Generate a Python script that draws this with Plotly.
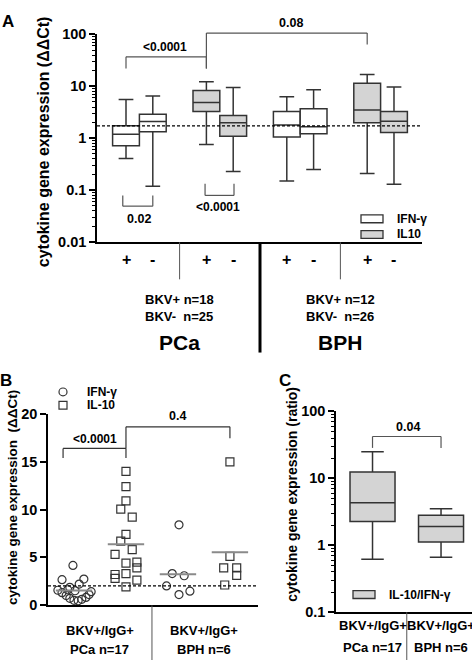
import numpy as np
import plotly.graph_objects as go

W, H = 472, 668
FONT = "Liberation Sans, Arial, sans-serif"
INK = "#333333"
GRAY_FILL = "#d4d4d4"

# ---------------- Panel A data (box statistics, ΔΔCt) ----------------
a_pos = [1, 2, 4, 5, 7, 8, 10, 11]
a_signs = ["+", "-", "+", "-", "+", "-", "+", "-"]
a_cytokine = ["IFN-γ", "IFN-γ", "IL10", "IL10", "IFN-γ", "IFN-γ", "IL10", "IL10"]
a_low = [0.41, 0.12, 0.76, 0.23, 0.15, 0.25, 0.21, 0.13]
a_q1 = [0.72, 1.33, 3.26, 1.09, 1.06, 1.22, 2.0, 1.3]
a_med = [1.2, 2.1, 4.9, 2.0, 1.8, 1.66, 3.5, 2.14]
a_q3 = [1.75, 2.9, 8.3, 2.74, 3.26, 3.7, 11.4, 3.26]
a_high = [5.6, 6.5, 12.2, 9.5, 6.3, 8.6, 16.8, 9.7]
a_ref = 1.73
a_groups = ["PCa", "BPH"]
a_group_pos = [3, 9]
a_counts = ["BKV+ n=18<br>BKV-\u00a0 n=25", "BKV+ n=12<br>BKV-\u00a0 n=26"]
a_yticks = [0.01, 0.1, 1, 10, 100]
a_yticklabels = ["0.01", "0.1", "1", "10", "100"]

# ---------------- Panel B data (individual points, ΔΔCt) ----------------
b_pca_ifn_x = [0.98, 0.77, 1.19, 1.10, 0.92, 0.69, 0.77, 0.85, 0.92, 1.0, 1.08, 1.15, 1.23, 1.29, 1.33, 1.02, 0.88]
b_pca_ifn_y = [4.15, 2.66, 2.72, 2.2, 1.85, 1.55, 1.3, 1.0, 0.7, 0.5, 0.45, 0.6, 0.8, 1.1, 1.4, 1.5, 1.6]
b_pca_il10_x = [2.0, 2.0, 2.0, 1.90, 2.12, 2.0, 1.90, 2.12, 1.79, 2.0, 2.21, 2.21, 1.79, 1.79, 2.0, 2.0, 2.21]
b_pca_il10_y = [14.0, 12.4, 10.9, 10.05, 9.2, 7.4, 6.7, 5.8, 5.3, 4.4, 4.5, 3.9, 3.2, 2.8, 3.3, 1.9, 2.6]
b_bph_ifn_x = [3.02, 2.89, 3.12, 2.78, 3.02, 3.23]
b_bph_ifn_y = [8.4, 3.3, 3.07, 2.0, 1.1, 1.45]
b_bph_il10_x = [4.0, 4.0, 3.88, 4.13, 4.13, 3.9]
b_bph_il10_y = [15.0, 5.1, 3.9, 3.9, 3.1, 2.1]
b_group_centers = [1, 2, 3, 4]
b_ref = 2.0
b_yticks = [0, 5, 10, 15, 20]
b_xlabels = [("BKV+/IgG+", "PCa n=17", 1.5), ("BKV+/IgG+", "BPH n=6", 3.5)]

# ---------------- Panel C data (IL-10/IFN-γ ratio) ----------------
c_pos = [1, 2]
c_low = [0.62, 0.66]
c_q1 = [2.26, 1.12]
c_med = [4.3, 1.91]
c_q3 = [12.4, 2.8]
c_high = [25.0, 3.5]
c_yticks = [0.1, 1, 10, 100]
c_yticklabels = ["0.1", "1", "10", "100"]
c_xlabels = [("BKV+/IgG+", "PCa n=17"), ("BKV+/IgG+", "BPH n=6")]


def px(x):
    return x / W


def py(y):
    return 1 - y / H


def bfont(size, color="black"):
    return dict(family=FONT, size=size, color=color, weight="bold")


def log_minor(lo, hi):
    return [m * 10.0 ** e for e in range(lo, hi) for m in range(2, 10)]


fig = go.Figure()

# ---------- Panel A boxes ----------
for i, p in enumerate(a_pos):
    fill = "white" if a_cytokine[i] == "IFN-γ" else GRAY_FILL
    fig.add_trace(go.Box(
        x=[p], q1=[a_q1[i]], median=[a_med[i]], q3=[a_q3[i]],
        lowerfence=[a_low[i]], upperfence=[a_high[i]],
        width=1.0, whiskerwidth=0.55, fillcolor=fill,
        line=dict(color=INK, width=1.5), boxpoints=False,
        showlegend=False, hoverinfo="skip", xaxis="x", yaxis="y"))

fig.add_trace(go.Scatter(x=[-0.082, 12.045], y=[a_ref, a_ref], mode="lines",
                         line=dict(color="black", width=1.3, dash="3px,2px"),
                         showlegend=False, hoverinfo="skip", xaxis="x", yaxis="y"))

# ---------- Panel B points ----------
mk = dict(size=8, line=dict(color=INK, width=1.2), color="rgba(0,0,0,0)")
for xs, ys, sym in [(b_pca_ifn_x, b_pca_ifn_y, "circle-open"),
                    (b_pca_il10_x, b_pca_il10_y, "square-open"),
                    (b_bph_ifn_x, b_bph_ifn_y, "circle-open"),
                    (b_bph_il10_x, b_bph_il10_y, "square-open")]:
    fig.add_trace(go.Scatter(x=xs, y=ys, mode="markers",
                             marker=dict(symbol=sym, size=8, color=INK, line=dict(color=INK, width=1.2)),
                             showlegend=False, hoverinfo="skip", xaxis="x2", yaxis="y2"))

for c, ys in zip(b_group_centers, [b_pca_ifn_y, b_pca_il10_y, b_bph_ifn_y, b_bph_il10_y]):
    m = float(np.mean(ys))
    fig.add_trace(go.Scatter(x=[c - 0.35, c + 0.35], y=[m, m], mode="lines",
                             line=dict(color="#8a8a8a", width=2),
                             showlegend=False, hoverinfo="skip", xaxis="x2", yaxis="y2"))

fig.add_trace(go.Scatter(x=[0.5, 4.54], y=[b_ref, b_ref], mode="lines",
                         line=dict(color="black", width=1.3, dash="3px,2px"),
                         showlegend=False, hoverinfo="skip", xaxis="x2", yaxis="y2"))

# ---------- Panel C boxes ----------
for i, p in enumerate(c_pos):
    fig.add_trace(go.Box(
        x=[p], q1=[c_q1[i]], median=[c_med[i]], q3=[c_q3[i]],
        lowerfence=[c_low[i]], upperfence=[c_high[i]],
        width=0.657, whiskerwidth=0.5, fillcolor=GRAY_FILL,
        line=dict(color=INK, width=1.5), boxpoints=False,
        showlegend=False, hoverinfo="skip", xaxis="x3", yaxis="y3"))

axis_common = dict(showline=True, linecolor="black", linewidth=1.5, showgrid=False,
                   zeroline=False, tickcolor="black")

shapes = []
anns = []

# ---------- Panel A decorations ----------
A_top, A_bot = 27, 240


def adom(ypix):
    return (A_bot - ypix) / (A_bot - A_top)


def bracket(xref, yref, x0, x1, ytop, yl, yr, width=1.2, color="#555555"):
    pts = [(x0, yl), (x0, ytop), (x1, ytop), (x1, yr)]
    for (xa, ya), (xb, yb) in zip(pts[:-1], pts[1:]):
        shapes.append(dict(type="line", xref=xref, yref=yref, x0=xa, y0=ya, x1=xb, y1=yb,
                           line=dict(color=color, width=width)))


bracket("x", "y domain", 1.0, 4.0, adom(50), adom(62), adom(62))
bracket("x", "y domain", 4.0, 10.0, adom(25.7), adom(62), adom(37.3))
bracket("x", "y domain", 0.88, 2.0, adom(203), adom(192), adom(192))
bracket("x", "y domain", 3.95, 5.03, adom(192), adom(180), adom(180))
anns += [
    dict(text="<0.0001", x=2.455, y=adom(40), xref="x", yref="y domain", font=bfont(12)),
    dict(text="0.08", x=7.157, y=adom(15), xref="x", yref="y domain", font=bfont(12.5)),
    dict(text="0.02", x=1.485, y=adom(216), xref="x", yref="y domain", font=bfont(12.5)),
    dict(text="<0.0001", x=4.43, y=adom(204), xref="x", yref="y domain", font=bfont(12)),
]

for p, s in zip(a_pos, a_signs):
    anns.append(dict(text=s, x=p, y=py(258), xref="x", yref="paper", font=bfont(16)))
for g, gp, cnt in zip(a_groups, a_group_pos, a_counts):
    anns.append(dict(text=cnt, x=gp, y=py(307), xref="x", yref="paper", font=bfont(13), align="left"))
    anns.append(dict(text=g, x=gp, y=py(343), xref="x", yref="paper", font=bfont(21)))
for xs in [3, 9]:
    shapes.append(dict(type="line", xref="x", yref="paper", x0=xs, x1=xs, y0=py(240), y1=py(278),
                       line=dict(color="#555555", width=1)))
shapes.append(dict(type="line", xref="x", yref="paper", x0=6, x1=6, y0=py(240), y1=py(353),
                   line=dict(color="black", width=3)))

# legend A
for (y0, y1, fill, lab) in [(212, 220, "white", "IFN-γ"), (228, 236, GRAY_FILL, "IL10")]:
    shapes.append(dict(type="rect", xref="paper", yref="paper", x0=px(361), x1=px(383),
                       y0=py(y1), y1=py(y0), fillcolor=fill, line=dict(color=INK, width=1.3)))
    anns.append(dict(text=lab, x=px(395), y=py((y0 + y1) / 2), xref="paper", yref="paper",
                     xanchor="left", font=bfont(12)))

anns.append(dict(text="cytokine gene expression (ΔΔCt)", x=px(43), y=py(137.5), xref="paper", yref="paper",
                 textangle=-90, font=bfont(16)))
anns.append(dict(text="A", x=px(8), y=py(14), xref="paper", yref="paper", font=bfont(17)))

# ---------- Panel B decorations ----------
bracket("x2", "y2", 0.79, 2.0, 16.4, 15.4, 15.4, color="#333333")
bracket("x2", "y2", 2.0, 4.0, 18.66, 16.4, 17.47, color="#333333")
anns += [
    dict(text="<0.0001", x=1.404, y=17.4, xref="x2", yref="y2", font=bfont(12)),
    dict(text="0.4", x=3.0, y=19.8, xref="x2", yref="y2", font=bfont(12.5)),
]
for l1, l2, xc in b_xlabels:
    anns.append(dict(text=l1, x=xc, y=py(638), xref="x2", yref="paper", font=bfont(13)))
    anns.append(dict(text=l2, x=xc, y=py(657), xref="x2", yref="paper", font=bfont(13)))
shapes.append(dict(type="line", xref="x2", yref="paper", x0=2.5, x1=2.5, y0=py(612), y1=py(668),
                   line=dict(color="#555555", width=1)))
# legend B
shapes.append(dict(type="circle", xref="paper", yref="paper", x0=px(59), x1=px(67), y0=py(397.3), y1=py(389.3),
                   line=dict(color=INK, width=1.2)))
shapes.append(dict(type="rect", xref="paper", yref="paper", x0=px(59), x1=px(67), y0=py(411), y1=py(403),
                   line=dict(color=INK, width=1.2)))
anns.append(dict(text="IFN-γ", x=px(85), y=py(393.3), xref="paper", yref="paper", xanchor="left", font=bfont(12)))
anns.append(dict(text="IL-10", x=px(85), y=py(407), xref="paper", yref="paper", xanchor="left", font=bfont(12)))
anns.append(dict(text="cytokine gene expression\u00a0 (ΔΔCt)", x=px(13), y=py(502), xref="paper", yref="paper",
                 textangle=-90, font=bfont(13.5)))
anns.append(dict(text="B", x=px(6), y=py(382), xref="paper", yref="paper", font=bfont(17)))

# ---------- Panel C decorations ----------
C_top, C_bot = 413.3, 619


def cdom(ypix):
    return (C_bot - ypix) / (C_bot - C_top)


bracket("x3", "y3 domain", 1.0, 2.0, cdom(439), cdom(450.7), cdom(450.7))
anns.append(dict(text="0.04", x=1.52, y=cdom(429.3), xref="x3", yref="y3 domain", font=bfont(12.5)))
for (l1, l2), p in zip(c_xlabels, c_pos):
    anns.append(dict(text=l1, x=p, y=py(632.7), xref="x3", yref="paper", font=bfont(13)))
    anns.append(dict(text=l2, x=p, y=py(655), xref="x3", yref="paper", font=bfont(13)))
shapes.append(dict(type="line", xref="x3", yref="paper", x0=1.5, x1=1.5, y0=py(619), y1=py(668),
                   line=dict(color="#555555", width=1)))
shapes.append(dict(type="rect", xref="paper", yref="paper", x0=px(353), x1=px(375), y0=py(605), y1=py(597),
                   fillcolor=GRAY_FILL, line=dict(color=INK, width=1.3)))
anns.append(dict(text="IL-10/IFN-γ", x=px(387), y=py(601), xref="paper", yref="paper", xanchor="left", font=bfont(12)))
anns.append(dict(text="cytokine gene expression (ratio)", x=px(291.7), y=py(498), xref="paper", yref="paper",
                 textangle=-90, font=bfont(14)))
anns.append(dict(text="C", x=px(285), y=py(382), xref="paper", yref="paper", font=bfont(17)))

for a in anns:
    a.setdefault("showarrow", False)
    a.setdefault("xanchor", "center")
    a.setdefault("yanchor", "middle")

fig.update_layout(
    width=W, height=H, margin=dict(l=0, r=0, t=0, b=0),
    paper_bgcolor="white", plot_bgcolor="white", showlegend=False,
    font=dict(family=FONT, color="black"),
    xaxis=dict(domain=[px(97), px(422)], range=[-0.082, 12.045], showticklabels=False, ticks="",
               anchor="y", **axis_common),
    yaxis=dict(domain=[py(240), py(27)], type="log", range=[-2, 2], tickmode="array",
               tickvals=a_yticks, ticktext=a_yticklabels, ticks="outside", ticklen=6, tickwidth=1.5,
               tickfont=bfont(14.5), anchor="x",
               minor=dict(tickmode="array", tickvals=log_minor(-2, 2), ticks="outside", ticklen=3,
                          tickwidth=1, tickcolor="black"), **axis_common),
    xaxis2=dict(domain=[px(48), px(258)], range=[0.5, 4.54], showticklabels=False, ticks="",
                anchor="y2", **axis_common),
    yaxis2=dict(domain=[py(611.7), py(416)], range=[0, 20], tickmode="array", tickvals=b_yticks,
                ticks="outside", ticklen=6, tickwidth=1.5, tickfont=bfont(14.5), anchor="x2", **axis_common),
    xaxis3=dict(domain=[px(336), 1.0], range=[0.467, 2.452], showticklabels=False, ticks="",
                anchor="y3", **axis_common),
    yaxis3=dict(domain=[py(619), py(413.3)], type="log", range=[-1, 2], tickmode="array",
                tickvals=c_yticks, ticktext=c_yticklabels, ticks="outside", ticklen=6, tickwidth=1.5,
                tickfont=bfont(14.5), anchor="x3",
                minor=dict(tickmode="array", tickvals=log_minor(-1, 2), ticks="outside", ticklen=3,
                           tickwidth=1, tickcolor="black"), **axis_common),
    shapes=shapes, annotations=anns,
)

fig.write_html("out.html")
